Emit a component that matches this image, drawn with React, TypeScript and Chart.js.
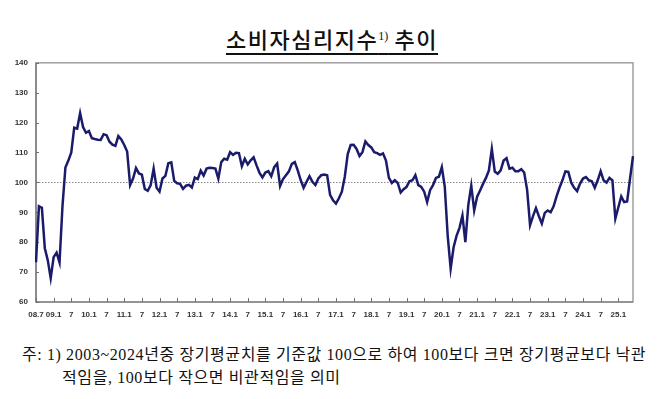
import { useEffect, useRef } from "react";
import { Chart, registerables } from "chart.js";

Chart.register(...registerables);

// Monthly CCSI values, 2008.7 – 2025.6
const v2008 = [73.3, 92.0, 91.5, 78.0, 74.0, 68.0];
const v2009 = [75.0, 76.5, 73.2, 92.0, 105.0, 107.3, 110.0, 118.3, 118.0, 123.2, 118.5, 116.6];
const v2010 = [117.2, 114.8, 114.5, 114.3, 114.2, 116.1, 115.8, 113.6, 112.6, 112.2, 115.5, 114.4];
const v2011 = [112.5, 110.3, 99.1, 101.3, 104.8, 103.0, 102.6, 97.8, 97.2, 99.1, 104.6, 98.2];
const v2012 = [96.9, 101.3, 102.2, 106.4, 106.7, 100.5, 99.7, 99.5, 97.8, 98.9, 99.2, 98.3];
const v2013 = [101.6, 101.1, 103.9, 102.3, 104.6, 104.9, 104.8, 104.6, 101.3, 106.8, 107.9, 107.6];
const v2014 = [110.1, 109.2, 109.9, 109.8, 105.4, 107.9, 106.0, 107.4, 108.4, 105.7, 103.2, 101.7];
const v2015 = [103.3, 103.8, 102.1, 105.1, 106.3, 98.8, 101.1, 102.4, 103.7, 106.2, 106.8, 104.0];
const v2016 = [100.8, 98.2, 100.2, 102.1, 100.2, 99.1, 101.3, 102.4, 102.6, 102.4, 95.8, 94.0];
const v2017 = [92.9, 94.7, 96.9, 101.9, 109.5, 112.5, 112.6, 111.2, 108.8, 110.1, 113.7, 112.5];
const v2018 = [111.7, 110.1, 109.8, 109.2, 109.7, 107.3, 101.5, 99.8, 100.7, 99.8, 96.6, 97.7];
const v2019 = [98.5, 100.4, 100.7, 102.4, 99.1, 98.5, 96.9, 93.4, 97.4, 99.1, 101.5, 101.9];
const v2020 = [105.1, 98.5, 82.0, 71.2, 78.3, 82.1, 84.8, 88.9, 80.0, 92.5, 98.9, 90.6];
const v2021 = [95.2, 97.3, 99.5, 101.5, 104.0, 111.2, 103.6, 102.9, 104.0, 107.3, 108.1, 104.6];
const v2022 = [104.9, 103.7, 103.7, 104.4, 103.3, 97.5, 85.7, 88.7, 91.4, 88.7, 86.2, 89.8];
const v2023 = [90.6, 90.0, 92.0, 95.3, 98.2, 100.7, 103.7, 103.5, 99.9, 98.2, 97.1, 99.6];
const v2024 = [101.3, 101.8, 100.7, 100.4, 98.2, 100.7, 103.7, 100.7, 99.9, 101.5, 100.7, 87.9];
const v2025 = [91.6, 95.3, 93.4, 93.6, 101.3, 108.8];

const seriesByYear = [v2008, v2009, v2010, v2011, v2012, v2013, v2014, v2015, v2016, v2017, v2018, v2019, v2020, v2021, v2022, v2023, v2024, v2025];
const firstYear = 2008;
const firstMonth = 7;

// Category labels "YYYY.M"
const categories: string[] = [];
seriesByYear.forEach((arr, yi) => {
  arr.forEach((_, mi) => {
    const month = yi === 0 ? firstMonth + mi : mi + 1;
    categories.push(`${firstYear + yi}.${month}`);
  });
});
const values: number[] = seriesByYear.flat();

const yTicks = [60, 70, 80, 90, 100, 110, 120, 130, 140];
const baseline = 100;

const titleMain = "소비자심리지수";
const titleSup = "1)";
const titleTail = " 추이";
const noteLine1 = "주: 1) 2003~2024년중 장기평균치를 기준값 100으로 하여 100보다 크면 장기평균보다 낙관";
const noteLine2 = "적임을, 100보다 작으면 비관적임을 의미";

function tickText(idx: number): string | null {
  const [y, m] = categories[idx].split(".");
  const yy = y.slice(2);
  if (idx === 0) return `${yy}.${m}`;
  if (m === "1") return `${yy}.1`;
  if (m === "7") return "7";
  return null;
}

const framePlugin = {
  id: "framePlugin",
  beforeDatasetsDraw(chart: any) {
    const { ctx, chartArea: a, scales } = chart;
    const x = scales.x;
    const y = scales.y;
    ctx.save();
    // dotted baseline
    const yb = Math.round(y.getPixelForValue(baseline)) + 0.5;
    ctx.strokeStyle = "#8a8a8a";
    ctx.lineWidth = 1;
    ctx.setLineDash([1.5, 1.5]);
    ctx.beginPath();
    ctx.moveTo(a.left, yb);
    ctx.lineTo(a.right, yb);
    ctx.stroke();
    ctx.setLineDash([]);
    // frame
    ctx.strokeStyle = "#a0a0a0";
    ctx.lineWidth = 1.5;
    ctx.strokeRect(a.left, a.top, a.right - a.left, a.bottom - a.top);
    // axes darker
    ctx.strokeStyle = "#707070";
    ctx.lineWidth = 1.2;
    ctx.beginPath();
    ctx.moveTo(a.left, a.top);
    ctx.lineTo(a.left, a.bottom);
    ctx.lineTo(a.right, a.bottom);
    ctx.stroke();
    // x tick marks (inside)
    ctx.lineWidth = 1;
    categories.forEach((_, i) => {
      if (tickText(i) !== null) {
        const px = Math.round(x.getPixelForValue(i)) + 0.5;
        ctx.beginPath();
        ctx.moveTo(px, a.bottom);
        ctx.lineTo(px, a.bottom - 4);
        ctx.stroke();
      }
    });
    // y tick marks (inside)
    yTicks.forEach((v) => {
      const py = Math.round(y.getPixelForValue(v)) + 0.5;
      ctx.beginPath();
      ctx.moveTo(a.left, py);
      ctx.lineTo(a.left + 3, py);
      ctx.stroke();
    });
    ctx.restore();
  },
};

export default function App() {
  const ref = useRef<HTMLCanvasElement>(null);

  useEffect(() => {
    document.body.style.margin = "0";
    const canvas = ref.current!;
    const chart = new Chart(canvas, {
      type: "line",
      data: {
        labels: categories,
        datasets: [
          {
            data: values,
            borderColor: "#1b1b6b",
            borderWidth: 2.5,
            pointRadius: 0,
            tension: 0,
            fill: false,
          },
        ],
      },
      options: {
        animation: false,
        responsive: false,
        devicePixelRatio: 1,
        layout: { padding: { left: 0, top: 9, right: 37, bottom: 0 } },
        plugins: { legend: { display: false }, tooltip: { enabled: false }, title: { display: false } },
        scales: {
          x: {
            type: "category",
            offset: false,
            grid: { display: false, drawTicks: false },
            border: { display: false },
            afterFit: (s: any) => {
              s.height = 28;
            },
            ticks: {
              autoSkip: false,
              maxRotation: 0,
              minRotation: 0,
              padding: 8,
              color: "#333",
              font: { family: "'Liberation Sans', Arial, sans-serif", size: 8, weight: "bold" },
              callback: (_v: any, idx: number) => tickText(idx),
            },
          },
          y: {
            min: 60,
            max: 140,
            grid: { display: false, drawTicks: false },
            border: { display: false },
            afterFit: (s: any) => {
              s.width = 36;
            },
            afterBuildTicks: (s: any) => {
              s.ticks = yTicks.map((v) => ({ value: v }));
            },
            ticks: {
              padding: 8,
              color: "#333",
              font: { family: "'Liberation Sans', Arial, sans-serif", size: 8, weight: "bold" },
            },
          },
        },
      },
      plugins: [framePlugin],
    });
    return () => chart.destroy();
  }, []);

  return (
    <div style={{ position: "relative", width: 670, height: 399, background: "#fff", overflow: "hidden" }}>
      <div
        style={{
          position: "absolute",
          left: 0,
          top: 24,
          width: 664,
          textAlign: "center",
          fontFamily: "'Noto Sans CJK KR', sans-serif",
          fontSize: 22,
          fontWeight: 500,
          letterSpacing: 1.5,
          color: "#111",
          lineHeight: "28px",
          whiteSpace: "nowrap",
        }}
      >
        <span style={{ textDecoration: "underline", textUnderlineOffset: 5, textDecorationThickness: 1.5 }}>
          {titleMain}
          <sup style={{ fontSize: 12, letterSpacing: 0, fontFamily: "'Liberation Serif', serif", verticalAlign: 8, lineHeight: 0 }}>{titleSup}</sup>
          {titleTail}
        </span>
      </div>
      <canvas ref={ref} width={670} height={280} style={{ position: "absolute", left: 0, top: 50, width: 670, height: 280 }} />
      <div
        style={{
          position: "absolute",
          left: 22,
          top: 343,
          fontFamily: "'Liberation Serif', 'Noto Sans CJK KR', serif",
          fontSize: 16,
          letterSpacing: 0.6,
          color: "#111",
          lineHeight: "23px",
          whiteSpace: "nowrap",
        }}
      >
        <div>{noteLine1}</div>
        <div style={{ paddingLeft: 40 }}>{noteLine2}</div>
      </div>
    </div>
  );
}
